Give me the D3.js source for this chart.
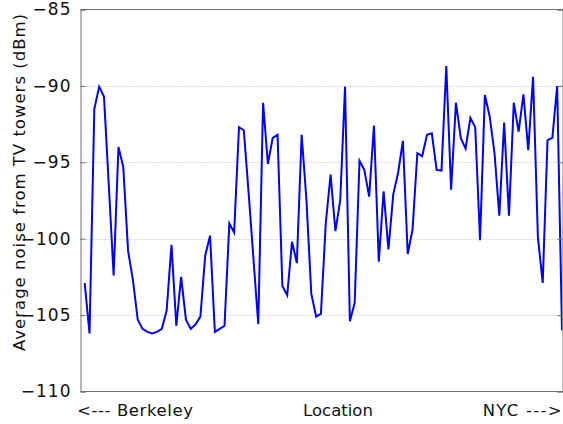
<!DOCTYPE html>
<html>
<head>
<meta charset="utf-8">
<script src="https://cdn.jsdelivr.net/npm/d3@7"></script>
<style>
  html, body { margin: 0; padding: 0; background: #fff; }
  svg { display: block; font-family: "DejaVu Sans", sans-serif; }
</style>
</head>
<body>
<svg id="chart" width="563" height="424"></svg>
<script>
// Noise level readings along the route (dBm), Berkeley -> NYC
const noise = [
  -102.9, -106.2, -91.5, -90.05, -90.7, -96.5, -102.4, -94.0, -95.3, -100.8,
  -102.7, -105.3, -105.9, -106.1, -106.2, -106.1, -105.9, -104.7, -100.4, -105.7,
  -102.5, -105.3, -105.9, -105.6, -105.1, -101.1, -99.8, -106.1, -105.9, -105.7,
  -99.0, -99.6, -92.7, -92.9, -97.0, -101.3, -105.6, -91.1, -95.1, -93.4,
  -93.2, -103.1, -103.7, -100.2, -101.6, -93.2, -97.5, -103.6, -105.1, -104.9,
  -99.0, -95.8, -99.5, -97.5, -90.05, -105.4, -104.2, -94.9, -95.5, -97.25,
  -92.6, -101.5, -96.9, -100.7, -97.1, -95.7, -93.6, -101.0, -99.4, -94.4,
  -94.6, -93.2, -93.1, -95.5, -95.55, -88.7, -96.8, -91.1, -93.4, -94.1,
  -92.1, -92.7, -100.1, -90.6, -92.0, -94.4, -98.5, -92.4, -98.5, -91.1,
  -93.0, -90.55, -94.2, -89.4, -99.9, -102.9, -93.55, -93.4, -90.0, -106.0
];
const yTicks = [-110, -105, -100, -95, -90, -85];
const yDomain = [-110, -85];
const xLabels = ["<--- Berkeley", "Location", "NYC --->"];
const yTitle = "Average noise from TV towers (dBm)";

const svg = d3.select("#chart");
const L = 80.5, R = 562.5, T = 9.5, B = 391.5;

const x = d3.scaleLinear().domain([0, noise.length - 1]).range([84.7, 562]);
const y = d3.scaleLinear().domain(yDomain).range([B, T]);

// gridlines
svg.append("g")
  .selectAll("line")
  .data(yTicks.filter(t => t !== yDomain[0] && t !== yDomain[1]))
  .join("line")
  .attr("x1", L).attr("x2", R)
  .attr("y1", d => Math.round(y(d)) + 0.5).attr("y2", d => Math.round(y(d)) + 0.5)
  .attr("stroke", "#b8b8b8").attr("stroke-width", 1)
  .attr("stroke-dasharray", "1,2");

// clip
svg.append("clipPath").attr("id", "clip")
  .append("rect").attr("x", L).attr("y", T).attr("width", R - L).attr("height", B - T);

// data line
svg.append("path")
  .datum(noise)
  .attr("clip-path", "url(#clip)")
  .attr("fill", "none")
  .attr("stroke", "#0000ff")
  .attr("stroke-width", 2)
  .attr("stroke-linejoin", "miter")
  .attr("d", d3.line().x((d, i) => x(i)).y(d => y(d)));

// left axis
const axL = d3.axisLeft(y).tickValues(yTicks).tickSize(-5).tickPadding(9)
  .tickFormat(d => d3.format("d")(d).replace("−", "\u2212"));
const gL = svg.append("g").attr("transform", `translate(${L},0)`).call(axL);
gL.select(".domain").attr("stroke", "#6e6e6e");
gL.selectAll(".tick line").attr("stroke", "#6e6e6e");
gL.selectAll(".tick text")
  .attr("font-size", 17).attr("fill", "#111")
  .attr("letter-spacing", 1)
  .attr("font-family", "DejaVu Sans, sans-serif");

// right axis
const axR = d3.axisRight(y).tickValues(yTicks).tickSize(-5).tickFormat("");
const gR = svg.append("g").attr("transform", `translate(${R},0)`).call(axR);
gR.select(".domain").attr("stroke", "#6e6e6e");
gR.selectAll(".tick line").attr("stroke", "#6e6e6e");

// top and bottom frame
svg.append("line").attr("x1", L).attr("x2", R).attr("y1", T).attr("y2", T).attr("stroke", "#6e6e6e");
svg.append("line").attr("x1", L).attr("x2", R).attr("y1", B).attr("y2", B).attr("stroke", "#6e6e6e");

// x labels
const xl = svg.append("g").attr("font-size", 16.5).attr("fill", "#111");
xl.append("text").attr("x", 77).attr("y", 416).attr("text-anchor", "start")
  .attr("letter-spacing", 0.6).text(xLabels[0]);
xl.append("text").attr("x", 338).attr("y", 416).attr("text-anchor", "middle").text(xLabels[1]);
xl.append("text").attr("x", 563).attr("y", 416).attr("text-anchor", "end")
  .attr("letter-spacing", 1.3).text(xLabels[2]);

// y title
svg.append("text")
  .attr("transform", `translate(25,182) rotate(-90)`)
  .attr("text-anchor", "middle")
  .attr("font-size", 16.5)
  .attr("letter-spacing", 1)
  .attr("fill", "#111")
  .text(yTitle);
</script>
</body>
</html>
